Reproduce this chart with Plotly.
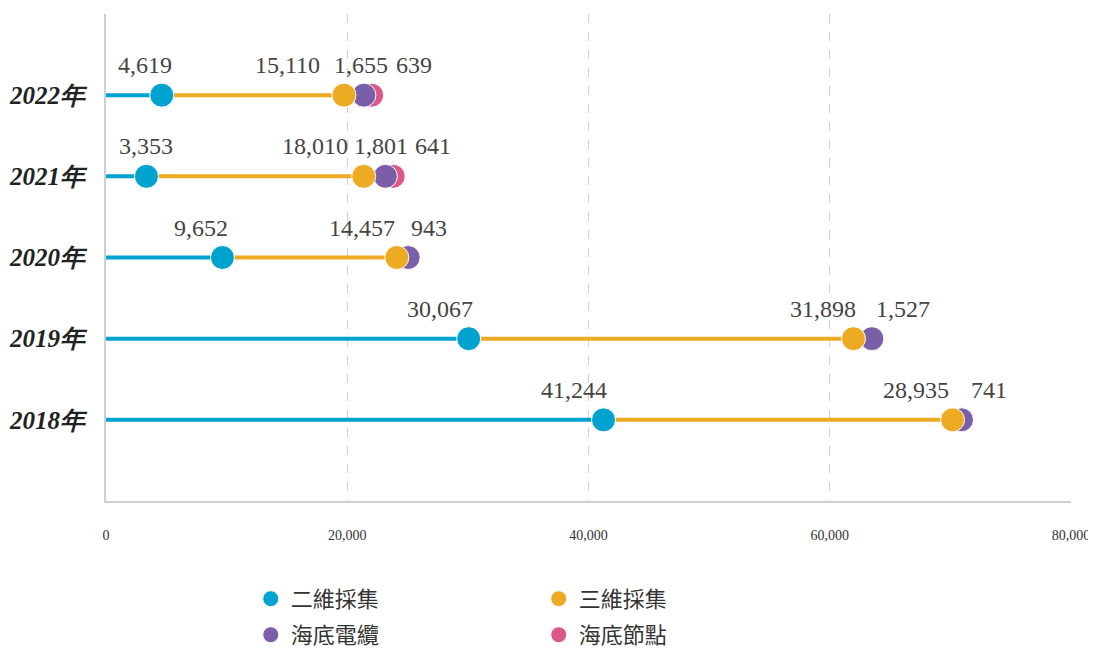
import plotly.graph_objects as go

years = ["2018年", "2019年", "2020年", "2021年", "2022年"]
series_names = ["二維採集", "三維採集", "海底電纜", "海底節點"]
v_2d = [41244, 30067, 9652, 3353, 4619]
v_3d = [28935, 31898, 14457, 18010, 15110]
v_cable = [741, 1527, 943, 1801, 1655]
v_node = [None, None, None, 641, 639]
x_ticks = [0, 20000, 40000, 60000, 80000]
x_ticklabels = ["0", "20,000", "40,000", "60,000", "80,000"]

colors = ["#00A2D0", "#EDAA23", "#7B5EA8", "#DA5787"]
# per-label horizontal offsets in px (style only), ordered like series
label_shift = [
    [-30, -37, 28, 0],
    [-29, -30, 31, 0],
    [-21, -35, 21, 0],
    [0, -49, -4, 40],
    [-17, -56, -3, 42],
]

series = [v_2d, v_3d, v_cable, v_node]
n = len(years)
starts = []
ends = []
for s in range(4):
    st, en = [], []
    for i in range(n):
        prev = sum((series[k][i] or 0) for k in range(s))
        val = series[s][i]
        if val is None:
            st.append(None); en.append(None)
        else:
            st.append(prev); en.append(prev + val)
    starts.append(st); ends.append(en)

fig = go.Figure()
# lines
for s in range(4):
    xs, ys = [], []
    for i in range(n):
        if ends[s][i] is None:
            continue
        xs += [starts[s][i], ends[s][i], None]
        ys += [i, i, None]
    fig.add_trace(go.Scatter(x=xs, y=ys, mode="lines", line=dict(color=colors[s], width=4),
                             showlegend=False, hoverinfo="skip"))
# markers, pink at bottom, blue on top
for s in [3, 2, 1, 0]:
    xs = [ends[s][i] for i in range(n) if ends[s][i] is not None]
    ys = [i for i in range(n) if ends[s][i] is not None]
    fig.add_trace(go.Scatter(x=xs, y=ys, mode="markers", name=series_names[s],
                             marker=dict(color=colors[s], size=24, line=dict(color="white", width=1)),
                             legend="legend" if s < 2 else "legend2", legendrank=s))

annotations = []
for i in range(n):
    for s in range(4):
        if series[s][i] is None:
            continue
        annotations.append(dict(x=ends[s][i], y=i, xref="x", yref="y", text=f"{series[s][i]:,}",
                                showarrow=False, yshift=30, xshift=label_shift[i][s],
                                font=dict(family="Liberation Serif, serif", size=24, color="#444444")))

legend_common = dict(orientation="h", xanchor="left", yanchor="middle", entrywidth=243,
                     font=dict(family="Noto Sans CJK TC, sans-serif", size=22, color="#333333"),
                     itemsizing="trace", bgcolor="rgba(0,0,0,0)", tracegroupgap=0)

fig.update_layout(
    width=1088, height=640,
    margin=dict(l=98, r=25, t=6, b=147, autoexpand=False),
    plot_bgcolor="white", paper_bgcolor="white",
    annotations=annotations,
    legend=dict(x=0.150, y=-0.201, **legend_common),
    legend2=dict(x=0.150, y=-0.275, **legend_common),
    xaxis=dict(range=[0, 80000], tickvals=x_ticks, ticktext=x_ticklabels,
               showgrid=True, gridcolor="#d0d0d0", griddash="dash", gridwidth=1,
               showline=True, linecolor="#d0d0d0", linewidth=2, zeroline=False,
               ticklabelstandoff=20, ticklabeloverflow="allow",
               tickfont=dict(family="Liberation Serif, serif", size=14, color="#333333")),
    yaxis=dict(range=[-1, 5], tickvals=list(range(n)),
               ticktext=[f"<b><i>{y}</i></b>" for y in years],
               showgrid=False, zeroline=False, showline=True, linecolor="#d0d0d0", linewidth=2,
               ticklabelstandoff=14,
               tickfont=dict(family="Liberation Serif, serif", size=25, color="#222222")),
)

fig.write_html("out.html")
